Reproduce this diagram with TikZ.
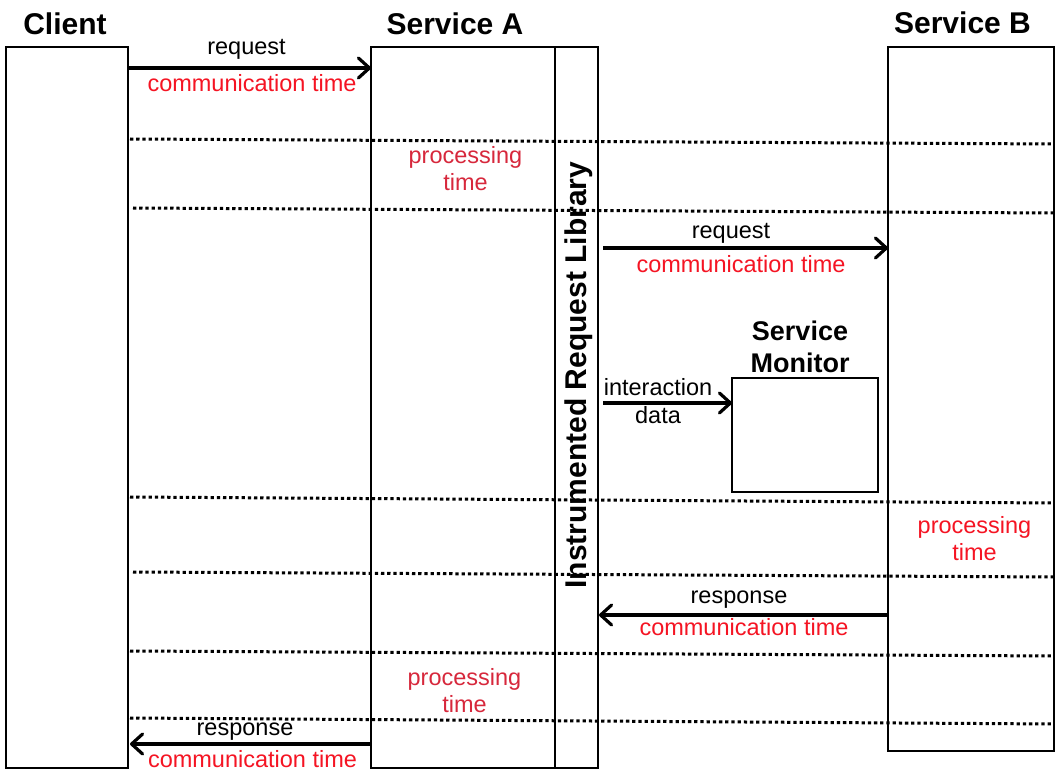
\documentclass[tikz,border=0pt]{standalone}
\usepackage{fontspec}
\setmainfont{Liberation Sans}
\usetikzlibrary{arrows.meta}
\definecolor{commred}{RGB}{245,20,35}
\definecolor{procred}{RGB}{215,40,60}
\begin{document}
\begin{tikzpicture}[x=1pt,y=-1pt,
  lane/.style={draw=black, line width=1.2pt, fill=white, inner sep=0pt, outer sep=0pt},
  title/.style={font=\bfseries\fontsize{30}{34}\selectfont, anchor=base, inner sep=0pt},
  lbl/.style={font=\fontsize{23.5}{27}\selectfont, anchor=base, inner sep=0pt, align=center},
  comm/.style={lbl, text=commred},
  proc/.style={lbl, text=procred},
  msg/.style={line width=3.2pt, -{Straight Barb[round, length=11pt, width=20pt]}},
  sep/.style={line width=3pt, dash pattern=on 3.3pt off 2.9pt},
]
% canvas
\fill[white] (0,0) rectangle (1061,773);
\useasboundingbox (0,0) rectangle (1061,773);

% lifeline boxes
\node[lane, minimum width=122pt, minimum height=721pt] (client) at (67,407.5) {};
\node[lane, minimum width=227pt, minimum height=721pt] (svcA) at (484.5,407.5) {};
\node[lane, minimum width=166pt, minimum height=704pt] (svcB) at (971,399) {};
\node[lane, minimum width=146pt, minimum height=114pt] (monitor) at (805,435) {};

% instrumented library strip inside Service A
\coordinate (libtop) at (555,47);
\coordinate (libbot) at (555,768);
\draw[line width=2pt] (libtop) -- (libbot);
\node[rotate=90, inner sep=0pt, font=\bfseries\fontsize{30}{34}\selectfont] (lib) at (579,375) {Instrumented Request Library};

% titles (multi-line nodes are placed by the baseline of their last line)
\node[title] (tclient) at (65,35) {Client};
\node[title] (tA) at (455,35) {Service A};
\node[title] (tB) at (962.5,34) {Service B};
\node[lbl, font=\bfseries\fontsize{27}{32}\selectfont] (tmon) at (800,372) {Service\\Monitor};

% phase separators
\draw[sep] (130,139) -- (1054,144);
\draw[sep] (133,208) -- (1054,213);
\draw[sep] (130,497) -- (1054,503);
\draw[sep] (133,572) -- (1054,577);
\draw[sep] (130,651) -- (1054,656);
\draw[sep] (130,718) -- (1054,724);

% client -> Service A
\draw[msg] (client.east |- 0,68) -- (svcA.west |- 0,68);
\node[lbl] (req1) at (246.5,55) {request};
\node[comm] (comm1) at (252,92) {communication time};
\node[proc] (proc1) at (465.5,190) {processing\\time};

% Service A -> Service B
\draw[msg] ([xshift=5pt]svcA.east |- 0,248) -- (svcB.west |- 0,248);
\node[lbl] (req2) at (731,238) {request};
\node[comm] (comm2) at (741,272) {communication time};

% library -> monitor
\draw[msg] ([xshift=5pt]svcA.east |- 0,403) -- (monitor.west |- 0,403);
\node[lbl, font=\fontsize{23.5}{28}\selectfont] (inter) at (658,423) {interaction\\data};

\node[comm] (proc2) at (974.5,560) {processing\\time};

% Service B -> Service A
\draw[msg] (svcB.west |- 0,615) -- ([xshift=1pt]svcA.east |- 0,615);
\node[lbl] (resp1) at (739,603) {response};
\node[comm] (comm3) at (744,635) {communication time};

\node[proc] (proc3) at (464.5,712) {processing\\time};

% Service A -> client
\draw[msg] (svcA.west |- 0,744) -- ([xshift=2pt]client.east |- 0,744);
\node[lbl] (resp2) at (245,735) {response};
\node[comm] (comm4) at (252.5,767) {communication time};
\end{tikzpicture}
\end{document}
